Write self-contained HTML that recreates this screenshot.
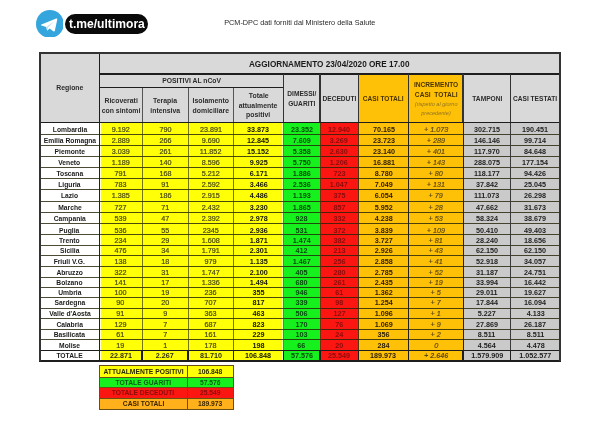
<!DOCTYPE html>
<html><head><meta charset="utf-8"><title>PCM-DPC</title>
<style>
html,body{margin:0;padding:0;background:#fff;}
body{width:600px;height:425px;overflow:hidden;position:relative;font-family:"Liberation Sans",sans-serif;}
#p{position:absolute;left:0;top:0;width:600px;height:425px;overflow:hidden;filter:blur(0.4px);}
#p div{position:absolute;}
.t{text-align:center;white-space:nowrap;}
.t span{display:inline-block;transform-origin:50% 50%;}
</style></head><body><div id="p">
<div style="left:40.00px;top:53.10px;width:520.00px;height:69.20px;background:#d9d9d9;"></div>
<div style="left:358.30px;top:74.10px;width:104.70px;height:48.20px;background:#ffc107;"></div>
<div style="left:40.00px;top:122.30px;width:59.30px;height:238.70px;background:#ffffff;"></div>
<div style="left:99.30px;top:122.30px;width:42.80px;height:238.70px;background:#ffff08;"></div>
<div style="left:142.10px;top:122.30px;width:45.90px;height:238.70px;background:#ffff08;"></div>
<div style="left:188.00px;top:122.30px;width:45.30px;height:238.70px;background:#ffff08;"></div>
<div style="left:233.30px;top:122.30px;width:50.20px;height:238.70px;background:#ffff08;"></div>
<div style="left:283.50px;top:122.30px;width:36.50px;height:238.70px;background:#16f01c;"></div>
<div style="left:320.00px;top:122.30px;width:38.30px;height:238.70px;background:#fb1612;"></div>
<div style="left:358.30px;top:122.30px;width:50.30px;height:238.70px;background:#ffc107;"></div>
<div style="left:408.60px;top:122.30px;width:54.40px;height:238.70px;background:#ffc107;"></div>
<div style="left:463.00px;top:122.30px;width:47.70px;height:238.70px;background:#cacaca;"></div>
<div style="left:510.70px;top:122.30px;width:49.30px;height:238.70px;background:#cacaca;"></div>
<div style="left:99.80px;top:122.90px;width:1.40px;height:237.50px;background:rgba(255,255,255,0.8);"></div>
<div style="left:281.90px;top:122.90px;width:1.20px;height:237.50px;background:rgba(255,255,235,0.7);"></div>
<div style="left:40.00px;top:133.88px;width:520.00px;height:0.85px;background:rgba(35,35,10,0.82);"></div>
<div style="left:40.00px;top:144.97px;width:520.00px;height:0.85px;background:rgba(35,35,10,0.82);"></div>
<div style="left:40.00px;top:155.97px;width:520.00px;height:0.85px;background:rgba(35,35,10,0.82);"></div>
<div style="left:40.00px;top:166.77px;width:520.00px;height:0.85px;background:rgba(35,35,10,0.82);"></div>
<div style="left:40.00px;top:177.77px;width:520.00px;height:0.85px;background:rgba(35,35,10,0.82);"></div>
<div style="left:40.00px;top:188.88px;width:520.00px;height:0.85px;background:rgba(35,35,10,0.82);"></div>
<div style="left:40.00px;top:201.38px;width:520.00px;height:0.85px;background:rgba(35,35,10,0.82);"></div>
<div style="left:40.00px;top:212.47px;width:520.00px;height:0.85px;background:rgba(35,35,10,0.82);"></div>
<div style="left:40.00px;top:223.17px;width:520.00px;height:0.85px;background:rgba(35,35,10,0.82);"></div>
<div style="left:40.00px;top:234.07px;width:520.00px;height:0.85px;background:rgba(35,35,10,0.82);"></div>
<div style="left:40.00px;top:244.88px;width:520.00px;height:0.85px;background:rgba(35,35,10,0.82);"></div>
<div style="left:40.00px;top:255.38px;width:520.00px;height:0.85px;background:rgba(35,35,10,0.82);"></div>
<div style="left:40.00px;top:265.97px;width:520.00px;height:0.85px;background:rgba(35,35,10,0.82);"></div>
<div style="left:40.00px;top:276.57px;width:520.00px;height:0.85px;background:rgba(35,35,10,0.82);"></div>
<div style="left:40.00px;top:287.07px;width:520.00px;height:0.85px;background:rgba(35,35,10,0.82);"></div>
<div style="left:40.00px;top:297.18px;width:520.00px;height:0.85px;background:rgba(35,35,10,0.82);"></div>
<div style="left:40.00px;top:307.88px;width:520.00px;height:0.85px;background:rgba(35,35,10,0.82);"></div>
<div style="left:40.00px;top:318.47px;width:520.00px;height:0.85px;background:rgba(35,35,10,0.82);"></div>
<div style="left:40.00px;top:329.07px;width:520.00px;height:0.85px;background:rgba(35,35,10,0.82);"></div>
<div style="left:40.00px;top:339.47px;width:520.00px;height:0.85px;background:rgba(35,35,10,0.82);"></div>
<div style="left:141.67px;top:122.30px;width:0.85px;height:228.30px;background:rgba(60,60,20,0.7);"></div>
<div style="left:187.57px;top:122.30px;width:0.85px;height:228.30px;background:rgba(60,60,20,0.7);"></div>
<div style="left:232.88px;top:122.30px;width:0.85px;height:228.30px;background:rgba(60,60,20,0.7);"></div>
<div style="left:283.07px;top:122.30px;width:0.85px;height:228.30px;background:rgba(60,60,20,0.7);"></div>
<div style="left:319.57px;top:122.30px;width:0.85px;height:228.30px;background:rgba(60,60,20,0.7);"></div>
<div style="left:98.80px;top:122.30px;width:1.00px;height:228.30px;background:#222;"></div>
<div style="left:408.10px;top:122.30px;width:1.00px;height:228.30px;background:#222;"></div>
<div style="left:462.50px;top:122.30px;width:1.00px;height:228.30px;background:#222;"></div>
<div style="left:510.25px;top:122.30px;width:0.90px;height:228.30px;background:#3a3a3a;"></div>
<div style="left:357.85px;top:122.30px;width:0.90px;height:228.30px;background:rgba(50,30,10,0.85);"></div>
<div style="left:99.30px;top:73.45px;width:460.70px;height:1.30px;background:#1e1e1e;"></div>
<div style="left:99.30px;top:87.00px;width:184.20px;height:1.20px;background:#1e1e1e;"></div>
<div style="left:40.00px;top:121.65px;width:520.00px;height:1.30px;background:#1e1e1e;"></div>
<div style="left:98.60px;top:53.10px;width:1.40px;height:69.20px;background:#1e1e1e;"></div>
<div style="left:282.95px;top:74.10px;width:1.10px;height:48.20px;background:#333;"></div>
<div style="left:319.45px;top:74.10px;width:1.10px;height:48.20px;background:#333;"></div>
<div style="left:357.75px;top:74.10px;width:1.10px;height:48.20px;background:#333;"></div>
<div style="left:408.05px;top:74.10px;width:1.10px;height:48.20px;background:#333;"></div>
<div style="left:462.45px;top:74.10px;width:1.10px;height:48.20px;background:#333;"></div>
<div style="left:510.15px;top:74.10px;width:1.10px;height:48.20px;background:#333;"></div>
<div style="left:141.70px;top:87.60px;width:0.80px;height:34.70px;background:#555;"></div>
<div style="left:187.60px;top:87.60px;width:0.80px;height:34.70px;background:#555;"></div>
<div style="left:232.90px;top:87.60px;width:0.80px;height:34.70px;background:#555;"></div>
<div style="left:40.00px;top:349.98px;width:520.00px;height:1.25px;background:#1e1e1e;"></div>
<div style="left:98.67px;top:350.60px;width:1.25px;height:10.40px;background:#1e1e1e;"></div>
<div style="left:141.47px;top:350.60px;width:1.25px;height:10.40px;background:#1e1e1e;"></div>
<div style="left:187.38px;top:350.60px;width:1.25px;height:10.40px;background:#1e1e1e;"></div>
<div style="left:232.68px;top:350.60px;width:1.25px;height:10.40px;background:#1e1e1e;"></div>
<div style="left:282.88px;top:350.60px;width:1.25px;height:10.40px;background:#1e1e1e;"></div>
<div style="left:319.38px;top:350.60px;width:1.25px;height:10.40px;background:#1e1e1e;"></div>
<div style="left:357.68px;top:350.60px;width:1.25px;height:10.40px;background:#1e1e1e;"></div>
<div style="left:407.98px;top:350.60px;width:1.25px;height:10.40px;background:#1e1e1e;"></div>
<div style="left:462.38px;top:350.60px;width:1.25px;height:10.40px;background:#1e1e1e;"></div>
<div style="left:510.07px;top:350.60px;width:1.25px;height:10.40px;background:#1e1e1e;"></div>
<div style="left:39.40px;top:52.45px;width:521.20px;height:1.30px;background:#333;"></div>
<div style="left:39.40px;top:360.30px;width:521.20px;height:1.40px;background:#1e1e1e;"></div>
<div style="left:39.48px;top:53.10px;width:1.25px;height:307.90px;background:#333;"></div>
<div style="left:559.38px;top:53.10px;width:1.25px;height:307.90px;background:#333;"></div>
<div class="t" style="left:40.00px;width:59.30px;top:78.00px;height:20px;line-height:20px;font-size:7.5px;color:#2b2b2b;font-weight:700;"><span style="transform:scaleX(0.92)">Regione</span></div>
<div class="t" style="left:99.30px;width:460.70px;top:54.00px;height:20px;line-height:20px;font-size:8.6px;color:#1a1a1a;font-weight:700;"><span style="transform:scaleX(0.953)">AGGIORNAMENTO 23/04/2020 ORE 17.00</span></div>
<div class="t" style="left:99.30px;width:184.20px;top:71.30px;height:20px;line-height:20px;font-size:7.3px;color:#2b2b2b;font-weight:700;"><span style="transform:scaleX(0.93)">POSITIVI AL nCoV</span></div>
<div class="t" style="left:99.30px;width:42.80px;top:90.90px;height:20px;line-height:20px;font-size:7.5px;color:#2b2b2b;font-weight:700;"><span style="transform:scaleX(0.92)">Ricoverati</span></div>
<div class="t" style="left:99.30px;width:42.80px;top:101.10px;height:20px;line-height:20px;font-size:7.5px;color:#2b2b2b;font-weight:700;"><span style="transform:scaleX(0.92)">con sintomi</span></div>
<div class="t" style="left:142.10px;width:45.90px;top:90.90px;height:20px;line-height:20px;font-size:7.5px;color:#2b2b2b;font-weight:700;"><span style="transform:scaleX(0.92)">Terapia</span></div>
<div class="t" style="left:142.10px;width:45.90px;top:101.10px;height:20px;line-height:20px;font-size:7.5px;color:#2b2b2b;font-weight:700;"><span style="transform:scaleX(0.92)">intensiva</span></div>
<div class="t" style="left:188.00px;width:45.30px;top:90.90px;height:20px;line-height:20px;font-size:7.5px;color:#2b2b2b;font-weight:700;"><span style="transform:scaleX(0.92)">Isolamento</span></div>
<div class="t" style="left:188.00px;width:45.30px;top:101.10px;height:20px;line-height:20px;font-size:7.5px;color:#2b2b2b;font-weight:700;"><span style="transform:scaleX(0.92)">domiciliare</span></div>
<div class="t" style="left:233.30px;width:50.20px;top:85.80px;height:20px;line-height:20px;font-size:7.5px;color:#2b2b2b;font-weight:700;"><span style="transform:scaleX(0.92)">Totale</span></div>
<div class="t" style="left:233.30px;width:50.20px;top:95.50px;height:20px;line-height:20px;font-size:7.5px;color:#2b2b2b;font-weight:700;"><span style="transform:scaleX(0.92)">attualmente</span></div>
<div class="t" style="left:233.30px;width:50.20px;top:105.30px;height:20px;line-height:20px;font-size:7.5px;color:#2b2b2b;font-weight:700;"><span style="transform:scaleX(0.92)">positivi</span></div>
<div class="t" style="left:283.50px;width:36.50px;top:83.90px;height:20px;line-height:20px;font-size:7.2px;color:#2b2b2b;font-weight:700;"><span style="transform:scaleX(0.92)">DIMESSI/</span></div>
<div class="t" style="left:283.50px;width:36.50px;top:94.10px;height:20px;line-height:20px;font-size:7.2px;color:#2b2b2b;font-weight:700;"><span style="transform:scaleX(0.92)">GUARITI</span></div>
<div class="t" style="left:320.00px;width:38.30px;top:88.60px;height:20px;line-height:20px;font-size:7.2px;color:#2b2b2b;font-weight:700;"><span style="transform:scaleX(0.92)">DECEDUTI</span></div>
<div class="t" style="left:358.30px;width:50.30px;top:88.60px;height:20px;line-height:20px;font-size:7.2px;color:#4a3500;font-weight:700;"><span style="transform:scaleX(0.92)">CASI TOTALI</span></div>
<div class="t" style="left:408.60px;width:54.40px;top:74.50px;height:20px;line-height:20px;font-size:7.2px;color:#4a3500;font-weight:700;"><span style="transform:scaleX(0.92)">INCREMENTO</span></div>
<div class="t" style="left:408.60px;width:54.40px;top:84.50px;height:20px;line-height:20px;font-size:7.2px;color:#4a3500;font-weight:700;"><span style="transform:scaleX(0.92)">CASI&nbsp; TOTALI</span></div>
<div class="t" style="left:408.60px;width:54.40px;top:94.00px;height:20px;line-height:20px;font-size:6.0px;color:#8f7320;font-weight:400;font-style:italic;"><span style="transform:scaleX(0.92)">(rispetto al giorno</span></div>
<div class="t" style="left:408.60px;width:54.40px;top:102.50px;height:20px;line-height:20px;font-size:6.0px;color:#8f7320;font-weight:400;font-style:italic;"><span style="transform:scaleX(0.92)">precedente)</span></div>
<div class="t" style="left:463.00px;width:47.70px;top:88.60px;height:20px;line-height:20px;font-size:7.2px;color:#2b2b2b;font-weight:700;"><span style="transform:scaleX(0.92)">TAMPONI</span></div>
<div class="t" style="left:510.70px;width:49.30px;top:88.60px;height:20px;line-height:20px;font-size:7.2px;color:#2b2b2b;font-weight:700;"><span style="transform:scaleX(0.92)">CASI TESTATI</span></div>
<div class="t" style="left:40.00px;width:59.30px;top:119.85px;height:20px;line-height:20px;font-size:7.45px;color:#1a1a1a;font-weight:700;"><span style="transform:scaleX(0.905)">Lombardia</span></div>
<div class="t" style="left:99.30px;width:42.80px;top:119.85px;height:20px;line-height:20px;font-size:7.8px;color:#4a4a12;font-weight:401;-webkit-text-stroke:0.22px #4a4a12;"><span style="transform:scaleX(0.925)">9.192</span></div>
<div class="t" style="left:142.10px;width:45.90px;top:119.85px;height:20px;line-height:20px;font-size:7.8px;color:#4a4a12;font-weight:401;-webkit-text-stroke:0.22px #4a4a12;"><span style="transform:scaleX(0.925)">790</span></div>
<div class="t" style="left:188.00px;width:45.30px;top:119.85px;height:20px;line-height:20px;font-size:7.8px;color:#4a4a12;font-weight:401;-webkit-text-stroke:0.22px #4a4a12;"><span style="transform:scaleX(0.925)">23.891</span></div>
<div class="t" style="left:233.30px;width:50.20px;top:119.85px;height:20px;line-height:20px;font-size:7.8px;color:#141400;font-weight:700;"><span style="transform:scaleX(0.925)">33.873</span></div>
<div class="t" style="left:283.50px;width:36.50px;top:119.85px;height:20px;line-height:20px;font-size:7.8px;color:#074a0e;font-weight:700;"><span style="transform:scaleX(0.925)">23.352</span></div>
<div class="t" style="left:320.00px;width:38.30px;top:119.85px;height:20px;line-height:20px;font-size:7.8px;color:#8c0c0c;font-weight:700;"><span style="transform:scaleX(0.925)">12.940</span></div>
<div class="t" style="left:358.30px;width:50.30px;top:119.85px;height:20px;line-height:20px;font-size:7.8px;color:#2a1c00;font-weight:700;"><span style="transform:scaleX(0.925)">70.165</span></div>
<div class="t" style="left:408.60px;width:54.40px;top:119.85px;height:20px;line-height:20px;font-size:7.8px;color:#5e4a14;font-weight:402;font-style:italic;-webkit-text-stroke:0.2px #5e4a14;"><span style="transform:scaleX(0.925)">+ 1.073</span></div>
<div class="t" style="left:463.00px;width:47.70px;top:119.85px;height:20px;line-height:20px;font-size:7.8px;color:#222;font-weight:700;"><span style="transform:scaleX(0.925)">302.715</span></div>
<div class="t" style="left:510.70px;width:49.30px;top:119.85px;height:20px;line-height:20px;font-size:7.8px;color:#222;font-weight:700;"><span style="transform:scaleX(0.925)">190.451</span></div>
<div class="t" style="left:40.00px;width:59.30px;top:131.35px;height:20px;line-height:20px;font-size:7.45px;color:#1a1a1a;font-weight:700;"><span style="transform:scaleX(0.905)">Emilia Romagna</span></div>
<div class="t" style="left:99.30px;width:42.80px;top:131.35px;height:20px;line-height:20px;font-size:7.8px;color:#4a4a12;font-weight:401;-webkit-text-stroke:0.22px #4a4a12;"><span style="transform:scaleX(0.925)">2.889</span></div>
<div class="t" style="left:142.10px;width:45.90px;top:131.35px;height:20px;line-height:20px;font-size:7.8px;color:#4a4a12;font-weight:401;-webkit-text-stroke:0.22px #4a4a12;"><span style="transform:scaleX(0.925)">266</span></div>
<div class="t" style="left:188.00px;width:45.30px;top:131.35px;height:20px;line-height:20px;font-size:7.8px;color:#4a4a12;font-weight:401;-webkit-text-stroke:0.22px #4a4a12;"><span style="transform:scaleX(0.925)">9.690</span></div>
<div class="t" style="left:233.30px;width:50.20px;top:131.35px;height:20px;line-height:20px;font-size:7.8px;color:#141400;font-weight:700;"><span style="transform:scaleX(0.925)">12.845</span></div>
<div class="t" style="left:283.50px;width:36.50px;top:131.35px;height:20px;line-height:20px;font-size:7.8px;color:#074a0e;font-weight:700;"><span style="transform:scaleX(0.925)">7.609</span></div>
<div class="t" style="left:320.00px;width:38.30px;top:131.35px;height:20px;line-height:20px;font-size:7.8px;color:#8c0c0c;font-weight:700;"><span style="transform:scaleX(0.925)">3.269</span></div>
<div class="t" style="left:358.30px;width:50.30px;top:131.35px;height:20px;line-height:20px;font-size:7.8px;color:#2a1c00;font-weight:700;"><span style="transform:scaleX(0.925)">23.723</span></div>
<div class="t" style="left:408.60px;width:54.40px;top:131.35px;height:20px;line-height:20px;font-size:7.8px;color:#5e4a14;font-weight:402;font-style:italic;-webkit-text-stroke:0.2px #5e4a14;"><span style="transform:scaleX(0.925)">+ 289</span></div>
<div class="t" style="left:463.00px;width:47.70px;top:131.35px;height:20px;line-height:20px;font-size:7.8px;color:#222;font-weight:700;"><span style="transform:scaleX(0.925)">146.146</span></div>
<div class="t" style="left:510.70px;width:49.30px;top:131.35px;height:20px;line-height:20px;font-size:7.8px;color:#222;font-weight:700;"><span style="transform:scaleX(0.925)">99.714</span></div>
<div class="t" style="left:40.00px;width:59.30px;top:142.40px;height:20px;line-height:20px;font-size:7.45px;color:#1a1a1a;font-weight:700;"><span style="transform:scaleX(0.905)">Piemonte</span></div>
<div class="t" style="left:99.30px;width:42.80px;top:142.40px;height:20px;line-height:20px;font-size:7.8px;color:#4a4a12;font-weight:401;-webkit-text-stroke:0.22px #4a4a12;"><span style="transform:scaleX(0.925)">3.039</span></div>
<div class="t" style="left:142.10px;width:45.90px;top:142.40px;height:20px;line-height:20px;font-size:7.8px;color:#4a4a12;font-weight:401;-webkit-text-stroke:0.22px #4a4a12;"><span style="transform:scaleX(0.925)">261</span></div>
<div class="t" style="left:188.00px;width:45.30px;top:142.40px;height:20px;line-height:20px;font-size:7.8px;color:#4a4a12;font-weight:401;-webkit-text-stroke:0.22px #4a4a12;"><span style="transform:scaleX(0.925)">11.852</span></div>
<div class="t" style="left:233.30px;width:50.20px;top:142.40px;height:20px;line-height:20px;font-size:7.8px;color:#141400;font-weight:700;"><span style="transform:scaleX(0.925)">15.152</span></div>
<div class="t" style="left:283.50px;width:36.50px;top:142.40px;height:20px;line-height:20px;font-size:7.8px;color:#074a0e;font-weight:700;"><span style="transform:scaleX(0.925)">5.358</span></div>
<div class="t" style="left:320.00px;width:38.30px;top:142.40px;height:20px;line-height:20px;font-size:7.8px;color:#8c0c0c;font-weight:700;"><span style="transform:scaleX(0.925)">2.630</span></div>
<div class="t" style="left:358.30px;width:50.30px;top:142.40px;height:20px;line-height:20px;font-size:7.8px;color:#2a1c00;font-weight:700;"><span style="transform:scaleX(0.925)">23.140</span></div>
<div class="t" style="left:408.60px;width:54.40px;top:142.40px;height:20px;line-height:20px;font-size:7.8px;color:#5e4a14;font-weight:402;font-style:italic;-webkit-text-stroke:0.2px #5e4a14;"><span style="transform:scaleX(0.925)">+ 401</span></div>
<div class="t" style="left:463.00px;width:47.70px;top:142.40px;height:20px;line-height:20px;font-size:7.8px;color:#222;font-weight:700;"><span style="transform:scaleX(0.925)">117.970</span></div>
<div class="t" style="left:510.70px;width:49.30px;top:142.40px;height:20px;line-height:20px;font-size:7.8px;color:#222;font-weight:700;"><span style="transform:scaleX(0.925)">84.648</span></div>
<div class="t" style="left:40.00px;width:59.30px;top:153.10px;height:20px;line-height:20px;font-size:7.45px;color:#1a1a1a;font-weight:700;"><span style="transform:scaleX(0.905)">Veneto</span></div>
<div class="t" style="left:99.30px;width:42.80px;top:153.10px;height:20px;line-height:20px;font-size:7.8px;color:#4a4a12;font-weight:401;-webkit-text-stroke:0.22px #4a4a12;"><span style="transform:scaleX(0.925)">1.189</span></div>
<div class="t" style="left:142.10px;width:45.90px;top:153.10px;height:20px;line-height:20px;font-size:7.8px;color:#4a4a12;font-weight:401;-webkit-text-stroke:0.22px #4a4a12;"><span style="transform:scaleX(0.925)">140</span></div>
<div class="t" style="left:188.00px;width:45.30px;top:153.10px;height:20px;line-height:20px;font-size:7.8px;color:#4a4a12;font-weight:401;-webkit-text-stroke:0.22px #4a4a12;"><span style="transform:scaleX(0.925)">8.596</span></div>
<div class="t" style="left:233.30px;width:50.20px;top:153.10px;height:20px;line-height:20px;font-size:7.8px;color:#141400;font-weight:700;"><span style="transform:scaleX(0.925)">9.925</span></div>
<div class="t" style="left:283.50px;width:36.50px;top:153.10px;height:20px;line-height:20px;font-size:7.8px;color:#074a0e;font-weight:700;"><span style="transform:scaleX(0.925)">5.750</span></div>
<div class="t" style="left:320.00px;width:38.30px;top:153.10px;height:20px;line-height:20px;font-size:7.8px;color:#8c0c0c;font-weight:700;"><span style="transform:scaleX(0.925)">1.206</span></div>
<div class="t" style="left:358.30px;width:50.30px;top:153.10px;height:20px;line-height:20px;font-size:7.8px;color:#2a1c00;font-weight:700;"><span style="transform:scaleX(0.925)">16.881</span></div>
<div class="t" style="left:408.60px;width:54.40px;top:153.10px;height:20px;line-height:20px;font-size:7.8px;color:#5e4a14;font-weight:402;font-style:italic;-webkit-text-stroke:0.2px #5e4a14;"><span style="transform:scaleX(0.925)">+ 143</span></div>
<div class="t" style="left:463.00px;width:47.70px;top:153.10px;height:20px;line-height:20px;font-size:7.8px;color:#222;font-weight:700;"><span style="transform:scaleX(0.925)">288.075</span></div>
<div class="t" style="left:510.70px;width:49.30px;top:153.10px;height:20px;line-height:20px;font-size:7.8px;color:#222;font-weight:700;"><span style="transform:scaleX(0.925)">177.154</span></div>
<div class="t" style="left:40.00px;width:59.30px;top:164.00px;height:20px;line-height:20px;font-size:7.45px;color:#1a1a1a;font-weight:700;"><span style="transform:scaleX(0.905)">Toscana</span></div>
<div class="t" style="left:99.30px;width:42.80px;top:164.00px;height:20px;line-height:20px;font-size:7.8px;color:#4a4a12;font-weight:401;-webkit-text-stroke:0.22px #4a4a12;"><span style="transform:scaleX(0.925)">791</span></div>
<div class="t" style="left:142.10px;width:45.90px;top:164.00px;height:20px;line-height:20px;font-size:7.8px;color:#4a4a12;font-weight:401;-webkit-text-stroke:0.22px #4a4a12;"><span style="transform:scaleX(0.925)">168</span></div>
<div class="t" style="left:188.00px;width:45.30px;top:164.00px;height:20px;line-height:20px;font-size:7.8px;color:#4a4a12;font-weight:401;-webkit-text-stroke:0.22px #4a4a12;"><span style="transform:scaleX(0.925)">5.212</span></div>
<div class="t" style="left:233.30px;width:50.20px;top:164.00px;height:20px;line-height:20px;font-size:7.8px;color:#141400;font-weight:700;"><span style="transform:scaleX(0.925)">6.171</span></div>
<div class="t" style="left:283.50px;width:36.50px;top:164.00px;height:20px;line-height:20px;font-size:7.8px;color:#074a0e;font-weight:700;"><span style="transform:scaleX(0.925)">1.886</span></div>
<div class="t" style="left:320.00px;width:38.30px;top:164.00px;height:20px;line-height:20px;font-size:7.8px;color:#8c0c0c;font-weight:700;"><span style="transform:scaleX(0.925)">723</span></div>
<div class="t" style="left:358.30px;width:50.30px;top:164.00px;height:20px;line-height:20px;font-size:7.8px;color:#2a1c00;font-weight:700;"><span style="transform:scaleX(0.925)">8.780</span></div>
<div class="t" style="left:408.60px;width:54.40px;top:164.00px;height:20px;line-height:20px;font-size:7.8px;color:#5e4a14;font-weight:402;font-style:italic;-webkit-text-stroke:0.2px #5e4a14;"><span style="transform:scaleX(0.925)">+ 80</span></div>
<div class="t" style="left:463.00px;width:47.70px;top:164.00px;height:20px;line-height:20px;font-size:7.8px;color:#222;font-weight:700;"><span style="transform:scaleX(0.925)">118.177</span></div>
<div class="t" style="left:510.70px;width:49.30px;top:164.00px;height:20px;line-height:20px;font-size:7.8px;color:#222;font-weight:700;"><span style="transform:scaleX(0.925)">94.426</span></div>
<div class="t" style="left:40.00px;width:59.30px;top:175.05px;height:20px;line-height:20px;font-size:7.45px;color:#1a1a1a;font-weight:700;"><span style="transform:scaleX(0.905)">Liguria</span></div>
<div class="t" style="left:99.30px;width:42.80px;top:175.05px;height:20px;line-height:20px;font-size:7.8px;color:#4a4a12;font-weight:401;-webkit-text-stroke:0.22px #4a4a12;"><span style="transform:scaleX(0.925)">783</span></div>
<div class="t" style="left:142.10px;width:45.90px;top:175.05px;height:20px;line-height:20px;font-size:7.8px;color:#4a4a12;font-weight:401;-webkit-text-stroke:0.22px #4a4a12;"><span style="transform:scaleX(0.925)">91</span></div>
<div class="t" style="left:188.00px;width:45.30px;top:175.05px;height:20px;line-height:20px;font-size:7.8px;color:#4a4a12;font-weight:401;-webkit-text-stroke:0.22px #4a4a12;"><span style="transform:scaleX(0.925)">2.592</span></div>
<div class="t" style="left:233.30px;width:50.20px;top:175.05px;height:20px;line-height:20px;font-size:7.8px;color:#141400;font-weight:700;"><span style="transform:scaleX(0.925)">3.466</span></div>
<div class="t" style="left:283.50px;width:36.50px;top:175.05px;height:20px;line-height:20px;font-size:7.8px;color:#074a0e;font-weight:700;"><span style="transform:scaleX(0.925)">2.536</span></div>
<div class="t" style="left:320.00px;width:38.30px;top:175.05px;height:20px;line-height:20px;font-size:7.8px;color:#8c0c0c;font-weight:700;"><span style="transform:scaleX(0.925)">1.047</span></div>
<div class="t" style="left:358.30px;width:50.30px;top:175.05px;height:20px;line-height:20px;font-size:7.8px;color:#2a1c00;font-weight:700;"><span style="transform:scaleX(0.925)">7.049</span></div>
<div class="t" style="left:408.60px;width:54.40px;top:175.05px;height:20px;line-height:20px;font-size:7.8px;color:#5e4a14;font-weight:402;font-style:italic;-webkit-text-stroke:0.2px #5e4a14;"><span style="transform:scaleX(0.925)">+ 131</span></div>
<div class="t" style="left:463.00px;width:47.70px;top:175.05px;height:20px;line-height:20px;font-size:7.8px;color:#222;font-weight:700;"><span style="transform:scaleX(0.925)">37.842</span></div>
<div class="t" style="left:510.70px;width:49.30px;top:175.05px;height:20px;line-height:20px;font-size:7.8px;color:#222;font-weight:700;"><span style="transform:scaleX(0.925)">25.045</span></div>
<div class="t" style="left:40.00px;width:59.30px;top:186.45px;height:20px;line-height:20px;font-size:7.45px;color:#1a1a1a;font-weight:700;"><span style="transform:scaleX(0.905)">Lazio</span></div>
<div class="t" style="left:99.30px;width:42.80px;top:186.45px;height:20px;line-height:20px;font-size:7.8px;color:#4a4a12;font-weight:401;-webkit-text-stroke:0.22px #4a4a12;"><span style="transform:scaleX(0.925)">1.385</span></div>
<div class="t" style="left:142.10px;width:45.90px;top:186.45px;height:20px;line-height:20px;font-size:7.8px;color:#4a4a12;font-weight:401;-webkit-text-stroke:0.22px #4a4a12;"><span style="transform:scaleX(0.925)">186</span></div>
<div class="t" style="left:188.00px;width:45.30px;top:186.45px;height:20px;line-height:20px;font-size:7.8px;color:#4a4a12;font-weight:401;-webkit-text-stroke:0.22px #4a4a12;"><span style="transform:scaleX(0.925)">2.915</span></div>
<div class="t" style="left:233.30px;width:50.20px;top:186.45px;height:20px;line-height:20px;font-size:7.8px;color:#141400;font-weight:700;"><span style="transform:scaleX(0.925)">4.486</span></div>
<div class="t" style="left:283.50px;width:36.50px;top:186.45px;height:20px;line-height:20px;font-size:7.8px;color:#074a0e;font-weight:700;"><span style="transform:scaleX(0.925)">1.193</span></div>
<div class="t" style="left:320.00px;width:38.30px;top:186.45px;height:20px;line-height:20px;font-size:7.8px;color:#8c0c0c;font-weight:700;"><span style="transform:scaleX(0.925)">375</span></div>
<div class="t" style="left:358.30px;width:50.30px;top:186.45px;height:20px;line-height:20px;font-size:7.8px;color:#2a1c00;font-weight:700;"><span style="transform:scaleX(0.925)">6.054</span></div>
<div class="t" style="left:408.60px;width:54.40px;top:186.45px;height:20px;line-height:20px;font-size:7.8px;color:#5e4a14;font-weight:402;font-style:italic;-webkit-text-stroke:0.2px #5e4a14;"><span style="transform:scaleX(0.925)">+ 79</span></div>
<div class="t" style="left:463.00px;width:47.70px;top:186.45px;height:20px;line-height:20px;font-size:7.8px;color:#222;font-weight:700;"><span style="transform:scaleX(0.925)">111.073</span></div>
<div class="t" style="left:510.70px;width:49.30px;top:186.45px;height:20px;line-height:20px;font-size:7.8px;color:#222;font-weight:700;"><span style="transform:scaleX(0.925)">26.298</span></div>
<div class="t" style="left:40.00px;width:59.30px;top:198.25px;height:20px;line-height:20px;font-size:7.45px;color:#1a1a1a;font-weight:700;"><span style="transform:scaleX(0.905)">Marche</span></div>
<div class="t" style="left:99.30px;width:42.80px;top:198.25px;height:20px;line-height:20px;font-size:7.8px;color:#4a4a12;font-weight:401;-webkit-text-stroke:0.22px #4a4a12;"><span style="transform:scaleX(0.925)">727</span></div>
<div class="t" style="left:142.10px;width:45.90px;top:198.25px;height:20px;line-height:20px;font-size:7.8px;color:#4a4a12;font-weight:401;-webkit-text-stroke:0.22px #4a4a12;"><span style="transform:scaleX(0.925)">71</span></div>
<div class="t" style="left:188.00px;width:45.30px;top:198.25px;height:20px;line-height:20px;font-size:7.8px;color:#4a4a12;font-weight:401;-webkit-text-stroke:0.22px #4a4a12;"><span style="transform:scaleX(0.925)">2.432</span></div>
<div class="t" style="left:233.30px;width:50.20px;top:198.25px;height:20px;line-height:20px;font-size:7.8px;color:#141400;font-weight:700;"><span style="transform:scaleX(0.925)">3.230</span></div>
<div class="t" style="left:283.50px;width:36.50px;top:198.25px;height:20px;line-height:20px;font-size:7.8px;color:#074a0e;font-weight:700;"><span style="transform:scaleX(0.925)">1.865</span></div>
<div class="t" style="left:320.00px;width:38.30px;top:198.25px;height:20px;line-height:20px;font-size:7.8px;color:#8c0c0c;font-weight:700;"><span style="transform:scaleX(0.925)">857</span></div>
<div class="t" style="left:358.30px;width:50.30px;top:198.25px;height:20px;line-height:20px;font-size:7.8px;color:#2a1c00;font-weight:700;"><span style="transform:scaleX(0.925)">5.952</span></div>
<div class="t" style="left:408.60px;width:54.40px;top:198.25px;height:20px;line-height:20px;font-size:7.8px;color:#5e4a14;font-weight:402;font-style:italic;-webkit-text-stroke:0.2px #5e4a14;"><span style="transform:scaleX(0.925)">+ 28</span></div>
<div class="t" style="left:463.00px;width:47.70px;top:198.25px;height:20px;line-height:20px;font-size:7.8px;color:#222;font-weight:700;"><span style="transform:scaleX(0.925)">47.662</span></div>
<div class="t" style="left:510.70px;width:49.30px;top:198.25px;height:20px;line-height:20px;font-size:7.8px;color:#222;font-weight:700;"><span style="transform:scaleX(0.925)">31.673</span></div>
<div class="t" style="left:40.00px;width:59.30px;top:209.15px;height:20px;line-height:20px;font-size:7.45px;color:#1a1a1a;font-weight:700;"><span style="transform:scaleX(0.905)">Campania</span></div>
<div class="t" style="left:99.30px;width:42.80px;top:209.15px;height:20px;line-height:20px;font-size:7.8px;color:#4a4a12;font-weight:401;-webkit-text-stroke:0.22px #4a4a12;"><span style="transform:scaleX(0.925)">539</span></div>
<div class="t" style="left:142.10px;width:45.90px;top:209.15px;height:20px;line-height:20px;font-size:7.8px;color:#4a4a12;font-weight:401;-webkit-text-stroke:0.22px #4a4a12;"><span style="transform:scaleX(0.925)">47</span></div>
<div class="t" style="left:188.00px;width:45.30px;top:209.15px;height:20px;line-height:20px;font-size:7.8px;color:#4a4a12;font-weight:401;-webkit-text-stroke:0.22px #4a4a12;"><span style="transform:scaleX(0.925)">2.392</span></div>
<div class="t" style="left:233.30px;width:50.20px;top:209.15px;height:20px;line-height:20px;font-size:7.8px;color:#141400;font-weight:700;"><span style="transform:scaleX(0.925)">2.978</span></div>
<div class="t" style="left:283.50px;width:36.50px;top:209.15px;height:20px;line-height:20px;font-size:7.8px;color:#074a0e;font-weight:700;"><span style="transform:scaleX(0.925)">928</span></div>
<div class="t" style="left:320.00px;width:38.30px;top:209.15px;height:20px;line-height:20px;font-size:7.8px;color:#8c0c0c;font-weight:700;"><span style="transform:scaleX(0.925)">332</span></div>
<div class="t" style="left:358.30px;width:50.30px;top:209.15px;height:20px;line-height:20px;font-size:7.8px;color:#2a1c00;font-weight:700;"><span style="transform:scaleX(0.925)">4.238</span></div>
<div class="t" style="left:408.60px;width:54.40px;top:209.15px;height:20px;line-height:20px;font-size:7.8px;color:#5e4a14;font-weight:402;font-style:italic;-webkit-text-stroke:0.2px #5e4a14;"><span style="transform:scaleX(0.925)">+ 53</span></div>
<div class="t" style="left:463.00px;width:47.70px;top:209.15px;height:20px;line-height:20px;font-size:7.8px;color:#222;font-weight:700;"><span style="transform:scaleX(0.925)">58.324</span></div>
<div class="t" style="left:510.70px;width:49.30px;top:209.15px;height:20px;line-height:20px;font-size:7.8px;color:#222;font-weight:700;"><span style="transform:scaleX(0.925)">38.679</span></div>
<div class="t" style="left:40.00px;width:59.30px;top:220.55px;height:20px;line-height:20px;font-size:7.45px;color:#1a1a1a;font-weight:700;"><span style="transform:scaleX(0.905)">Puglia</span></div>
<div class="t" style="left:99.30px;width:42.80px;top:220.55px;height:20px;line-height:20px;font-size:7.8px;color:#4a4a12;font-weight:401;-webkit-text-stroke:0.22px #4a4a12;"><span style="transform:scaleX(0.925)">536</span></div>
<div class="t" style="left:142.10px;width:45.90px;top:220.55px;height:20px;line-height:20px;font-size:7.8px;color:#4a4a12;font-weight:401;-webkit-text-stroke:0.22px #4a4a12;"><span style="transform:scaleX(0.925)">55</span></div>
<div class="t" style="left:188.00px;width:45.30px;top:220.55px;height:20px;line-height:20px;font-size:7.8px;color:#4a4a12;font-weight:401;-webkit-text-stroke:0.22px #4a4a12;"><span style="transform:scaleX(0.925)">2345</span></div>
<div class="t" style="left:233.30px;width:50.20px;top:220.55px;height:20px;line-height:20px;font-size:7.8px;color:#141400;font-weight:700;"><span style="transform:scaleX(0.925)">2.936</span></div>
<div class="t" style="left:283.50px;width:36.50px;top:220.55px;height:20px;line-height:20px;font-size:7.8px;color:#074a0e;font-weight:700;"><span style="transform:scaleX(0.925)">531</span></div>
<div class="t" style="left:320.00px;width:38.30px;top:220.55px;height:20px;line-height:20px;font-size:7.8px;color:#8c0c0c;font-weight:700;"><span style="transform:scaleX(0.925)">372</span></div>
<div class="t" style="left:358.30px;width:50.30px;top:220.55px;height:20px;line-height:20px;font-size:7.8px;color:#2a1c00;font-weight:700;"><span style="transform:scaleX(0.925)">3.839</span></div>
<div class="t" style="left:408.60px;width:54.40px;top:220.55px;height:20px;line-height:20px;font-size:7.8px;color:#5e4a14;font-weight:402;font-style:italic;-webkit-text-stroke:0.2px #5e4a14;"><span style="transform:scaleX(0.925)">+ 109</span></div>
<div class="t" style="left:463.00px;width:47.70px;top:220.55px;height:20px;line-height:20px;font-size:7.8px;color:#222;font-weight:700;"><span style="transform:scaleX(0.925)">50.410</span></div>
<div class="t" style="left:510.70px;width:49.30px;top:220.55px;height:20px;line-height:20px;font-size:7.8px;color:#222;font-weight:700;"><span style="transform:scaleX(0.925)">49.403</span></div>
<div class="t" style="left:40.00px;width:59.30px;top:231.10px;height:20px;line-height:20px;font-size:7.45px;color:#1a1a1a;font-weight:700;"><span style="transform:scaleX(0.905)">Trento</span></div>
<div class="t" style="left:99.30px;width:42.80px;top:231.10px;height:20px;line-height:20px;font-size:7.8px;color:#4a4a12;font-weight:401;-webkit-text-stroke:0.22px #4a4a12;"><span style="transform:scaleX(0.925)">234</span></div>
<div class="t" style="left:142.10px;width:45.90px;top:231.10px;height:20px;line-height:20px;font-size:7.8px;color:#4a4a12;font-weight:401;-webkit-text-stroke:0.22px #4a4a12;"><span style="transform:scaleX(0.925)">29</span></div>
<div class="t" style="left:188.00px;width:45.30px;top:231.10px;height:20px;line-height:20px;font-size:7.8px;color:#4a4a12;font-weight:401;-webkit-text-stroke:0.22px #4a4a12;"><span style="transform:scaleX(0.925)">1.608</span></div>
<div class="t" style="left:233.30px;width:50.20px;top:231.10px;height:20px;line-height:20px;font-size:7.8px;color:#141400;font-weight:700;"><span style="transform:scaleX(0.925)">1.871</span></div>
<div class="t" style="left:283.50px;width:36.50px;top:231.10px;height:20px;line-height:20px;font-size:7.8px;color:#074a0e;font-weight:700;"><span style="transform:scaleX(0.925)">1.474</span></div>
<div class="t" style="left:320.00px;width:38.30px;top:231.10px;height:20px;line-height:20px;font-size:7.8px;color:#8c0c0c;font-weight:700;"><span style="transform:scaleX(0.925)">382</span></div>
<div class="t" style="left:358.30px;width:50.30px;top:231.10px;height:20px;line-height:20px;font-size:7.8px;color:#2a1c00;font-weight:700;"><span style="transform:scaleX(0.925)">3.727</span></div>
<div class="t" style="left:408.60px;width:54.40px;top:231.10px;height:20px;line-height:20px;font-size:7.8px;color:#5e4a14;font-weight:402;font-style:italic;-webkit-text-stroke:0.2px #5e4a14;"><span style="transform:scaleX(0.925)">+ 81</span></div>
<div class="t" style="left:463.00px;width:47.70px;top:231.10px;height:20px;line-height:20px;font-size:7.8px;color:#222;font-weight:700;"><span style="transform:scaleX(0.925)">28.240</span></div>
<div class="t" style="left:510.70px;width:49.30px;top:231.10px;height:20px;line-height:20px;font-size:7.8px;color:#222;font-weight:700;"><span style="transform:scaleX(0.925)">18.656</span></div>
<div class="t" style="left:40.00px;width:59.30px;top:241.25px;height:20px;line-height:20px;font-size:7.45px;color:#1a1a1a;font-weight:700;"><span style="transform:scaleX(0.905)">Sicilia</span></div>
<div class="t" style="left:99.30px;width:42.80px;top:241.25px;height:20px;line-height:20px;font-size:7.8px;color:#4a4a12;font-weight:401;-webkit-text-stroke:0.22px #4a4a12;"><span style="transform:scaleX(0.925)">476</span></div>
<div class="t" style="left:142.10px;width:45.90px;top:241.25px;height:20px;line-height:20px;font-size:7.8px;color:#4a4a12;font-weight:401;-webkit-text-stroke:0.22px #4a4a12;"><span style="transform:scaleX(0.925)">34</span></div>
<div class="t" style="left:188.00px;width:45.30px;top:241.25px;height:20px;line-height:20px;font-size:7.8px;color:#4a4a12;font-weight:401;-webkit-text-stroke:0.22px #4a4a12;"><span style="transform:scaleX(0.925)">1.791</span></div>
<div class="t" style="left:233.30px;width:50.20px;top:241.25px;height:20px;line-height:20px;font-size:7.8px;color:#141400;font-weight:700;"><span style="transform:scaleX(0.925)">2.301</span></div>
<div class="t" style="left:283.50px;width:36.50px;top:241.25px;height:20px;line-height:20px;font-size:7.8px;color:#074a0e;font-weight:700;"><span style="transform:scaleX(0.925)">412</span></div>
<div class="t" style="left:320.00px;width:38.30px;top:241.25px;height:20px;line-height:20px;font-size:7.8px;color:#8c0c0c;font-weight:700;"><span style="transform:scaleX(0.925)">213</span></div>
<div class="t" style="left:358.30px;width:50.30px;top:241.25px;height:20px;line-height:20px;font-size:7.8px;color:#2a1c00;font-weight:700;"><span style="transform:scaleX(0.925)">2.926</span></div>
<div class="t" style="left:408.60px;width:54.40px;top:241.25px;height:20px;line-height:20px;font-size:7.8px;color:#5e4a14;font-weight:402;font-style:italic;-webkit-text-stroke:0.2px #5e4a14;"><span style="transform:scaleX(0.925)">+ 43</span></div>
<div class="t" style="left:463.00px;width:47.70px;top:241.25px;height:20px;line-height:20px;font-size:7.8px;color:#222;font-weight:700;"><span style="transform:scaleX(0.925)">62.150</span></div>
<div class="t" style="left:510.70px;width:49.30px;top:241.25px;height:20px;line-height:20px;font-size:7.8px;color:#222;font-weight:700;"><span style="transform:scaleX(0.925)">62.150</span></div>
<div class="t" style="left:40.00px;width:59.30px;top:251.80px;height:20px;line-height:20px;font-size:7.45px;color:#1a1a1a;font-weight:700;"><span style="transform:scaleX(0.905)">Friuli V.G.</span></div>
<div class="t" style="left:99.30px;width:42.80px;top:251.80px;height:20px;line-height:20px;font-size:7.8px;color:#4a4a12;font-weight:401;-webkit-text-stroke:0.22px #4a4a12;"><span style="transform:scaleX(0.925)">138</span></div>
<div class="t" style="left:142.10px;width:45.90px;top:251.80px;height:20px;line-height:20px;font-size:7.8px;color:#4a4a12;font-weight:401;-webkit-text-stroke:0.22px #4a4a12;"><span style="transform:scaleX(0.925)">18</span></div>
<div class="t" style="left:188.00px;width:45.30px;top:251.80px;height:20px;line-height:20px;font-size:7.8px;color:#4a4a12;font-weight:401;-webkit-text-stroke:0.22px #4a4a12;"><span style="transform:scaleX(0.925)">979</span></div>
<div class="t" style="left:233.30px;width:50.20px;top:251.80px;height:20px;line-height:20px;font-size:7.8px;color:#141400;font-weight:700;"><span style="transform:scaleX(0.925)">1.135</span></div>
<div class="t" style="left:283.50px;width:36.50px;top:251.80px;height:20px;line-height:20px;font-size:7.8px;color:#074a0e;font-weight:700;"><span style="transform:scaleX(0.925)">1.467</span></div>
<div class="t" style="left:320.00px;width:38.30px;top:251.80px;height:20px;line-height:20px;font-size:7.8px;color:#8c0c0c;font-weight:700;"><span style="transform:scaleX(0.925)">256</span></div>
<div class="t" style="left:358.30px;width:50.30px;top:251.80px;height:20px;line-height:20px;font-size:7.8px;color:#2a1c00;font-weight:700;"><span style="transform:scaleX(0.925)">2.858</span></div>
<div class="t" style="left:408.60px;width:54.40px;top:251.80px;height:20px;line-height:20px;font-size:7.8px;color:#5e4a14;font-weight:402;font-style:italic;-webkit-text-stroke:0.2px #5e4a14;"><span style="transform:scaleX(0.925)">+ 41</span></div>
<div class="t" style="left:463.00px;width:47.70px;top:251.80px;height:20px;line-height:20px;font-size:7.8px;color:#222;font-weight:700;"><span style="transform:scaleX(0.925)">52.918</span></div>
<div class="t" style="left:510.70px;width:49.30px;top:251.80px;height:20px;line-height:20px;font-size:7.8px;color:#222;font-weight:700;"><span style="transform:scaleX(0.925)">34.057</span></div>
<div class="t" style="left:40.00px;width:59.30px;top:262.50px;height:20px;line-height:20px;font-size:7.45px;color:#1a1a1a;font-weight:700;"><span style="transform:scaleX(0.905)">Abruzzo</span></div>
<div class="t" style="left:99.30px;width:42.80px;top:262.50px;height:20px;line-height:20px;font-size:7.8px;color:#4a4a12;font-weight:401;-webkit-text-stroke:0.22px #4a4a12;"><span style="transform:scaleX(0.925)">322</span></div>
<div class="t" style="left:142.10px;width:45.90px;top:262.50px;height:20px;line-height:20px;font-size:7.8px;color:#4a4a12;font-weight:401;-webkit-text-stroke:0.22px #4a4a12;"><span style="transform:scaleX(0.925)">31</span></div>
<div class="t" style="left:188.00px;width:45.30px;top:262.50px;height:20px;line-height:20px;font-size:7.8px;color:#4a4a12;font-weight:401;-webkit-text-stroke:0.22px #4a4a12;"><span style="transform:scaleX(0.925)">1.747</span></div>
<div class="t" style="left:233.30px;width:50.20px;top:262.50px;height:20px;line-height:20px;font-size:7.8px;color:#141400;font-weight:700;"><span style="transform:scaleX(0.925)">2.100</span></div>
<div class="t" style="left:283.50px;width:36.50px;top:262.50px;height:20px;line-height:20px;font-size:7.8px;color:#074a0e;font-weight:700;"><span style="transform:scaleX(0.925)">405</span></div>
<div class="t" style="left:320.00px;width:38.30px;top:262.50px;height:20px;line-height:20px;font-size:7.8px;color:#8c0c0c;font-weight:700;"><span style="transform:scaleX(0.925)">280</span></div>
<div class="t" style="left:358.30px;width:50.30px;top:262.50px;height:20px;line-height:20px;font-size:7.8px;color:#2a1c00;font-weight:700;"><span style="transform:scaleX(0.925)">2.785</span></div>
<div class="t" style="left:408.60px;width:54.40px;top:262.50px;height:20px;line-height:20px;font-size:7.8px;color:#5e4a14;font-weight:402;font-style:italic;-webkit-text-stroke:0.2px #5e4a14;"><span style="transform:scaleX(0.925)">+ 52</span></div>
<div class="t" style="left:463.00px;width:47.70px;top:262.50px;height:20px;line-height:20px;font-size:7.8px;color:#222;font-weight:700;"><span style="transform:scaleX(0.925)">31.187</span></div>
<div class="t" style="left:510.70px;width:49.30px;top:262.50px;height:20px;line-height:20px;font-size:7.8px;color:#222;font-weight:700;"><span style="transform:scaleX(0.925)">24.751</span></div>
<div class="t" style="left:40.00px;width:59.30px;top:272.85px;height:20px;line-height:20px;font-size:7.45px;color:#1a1a1a;font-weight:700;"><span style="transform:scaleX(0.905)">Bolzano</span></div>
<div class="t" style="left:99.30px;width:42.80px;top:272.85px;height:20px;line-height:20px;font-size:7.8px;color:#4a4a12;font-weight:401;-webkit-text-stroke:0.22px #4a4a12;"><span style="transform:scaleX(0.925)">141</span></div>
<div class="t" style="left:142.10px;width:45.90px;top:272.85px;height:20px;line-height:20px;font-size:7.8px;color:#4a4a12;font-weight:401;-webkit-text-stroke:0.22px #4a4a12;"><span style="transform:scaleX(0.925)">17</span></div>
<div class="t" style="left:188.00px;width:45.30px;top:272.85px;height:20px;line-height:20px;font-size:7.8px;color:#4a4a12;font-weight:401;-webkit-text-stroke:0.22px #4a4a12;"><span style="transform:scaleX(0.925)">1.336</span></div>
<div class="t" style="left:233.30px;width:50.20px;top:272.85px;height:20px;line-height:20px;font-size:7.8px;color:#141400;font-weight:700;"><span style="transform:scaleX(0.925)">1.494</span></div>
<div class="t" style="left:283.50px;width:36.50px;top:272.85px;height:20px;line-height:20px;font-size:7.8px;color:#074a0e;font-weight:700;"><span style="transform:scaleX(0.925)">680</span></div>
<div class="t" style="left:320.00px;width:38.30px;top:272.85px;height:20px;line-height:20px;font-size:7.8px;color:#8c0c0c;font-weight:700;"><span style="transform:scaleX(0.925)">261</span></div>
<div class="t" style="left:358.30px;width:50.30px;top:272.85px;height:20px;line-height:20px;font-size:7.8px;color:#2a1c00;font-weight:700;"><span style="transform:scaleX(0.925)">2.435</span></div>
<div class="t" style="left:408.60px;width:54.40px;top:272.85px;height:20px;line-height:20px;font-size:7.8px;color:#5e4a14;font-weight:402;font-style:italic;-webkit-text-stroke:0.2px #5e4a14;"><span style="transform:scaleX(0.925)">+ 19</span></div>
<div class="t" style="left:463.00px;width:47.70px;top:272.85px;height:20px;line-height:20px;font-size:7.8px;color:#222;font-weight:700;"><span style="transform:scaleX(0.925)">33.994</span></div>
<div class="t" style="left:510.70px;width:49.30px;top:272.85px;height:20px;line-height:20px;font-size:7.8px;color:#222;font-weight:700;"><span style="transform:scaleX(0.925)">16.442</span></div>
<div class="t" style="left:40.00px;width:59.30px;top:283.05px;height:20px;line-height:20px;font-size:7.45px;color:#1a1a1a;font-weight:700;"><span style="transform:scaleX(0.905)">Umbria</span></div>
<div class="t" style="left:99.30px;width:42.80px;top:283.05px;height:20px;line-height:20px;font-size:7.8px;color:#4a4a12;font-weight:401;-webkit-text-stroke:0.22px #4a4a12;"><span style="transform:scaleX(0.925)">100</span></div>
<div class="t" style="left:142.10px;width:45.90px;top:283.05px;height:20px;line-height:20px;font-size:7.8px;color:#4a4a12;font-weight:401;-webkit-text-stroke:0.22px #4a4a12;"><span style="transform:scaleX(0.925)">19</span></div>
<div class="t" style="left:188.00px;width:45.30px;top:283.05px;height:20px;line-height:20px;font-size:7.8px;color:#4a4a12;font-weight:401;-webkit-text-stroke:0.22px #4a4a12;"><span style="transform:scaleX(0.925)">236</span></div>
<div class="t" style="left:233.30px;width:50.20px;top:283.05px;height:20px;line-height:20px;font-size:7.8px;color:#141400;font-weight:700;"><span style="transform:scaleX(0.925)">355</span></div>
<div class="t" style="left:283.50px;width:36.50px;top:283.05px;height:20px;line-height:20px;font-size:7.8px;color:#074a0e;font-weight:700;"><span style="transform:scaleX(0.925)">946</span></div>
<div class="t" style="left:320.00px;width:38.30px;top:283.05px;height:20px;line-height:20px;font-size:7.8px;color:#8c0c0c;font-weight:700;"><span style="transform:scaleX(0.925)">61</span></div>
<div class="t" style="left:358.30px;width:50.30px;top:283.05px;height:20px;line-height:20px;font-size:7.8px;color:#2a1c00;font-weight:700;"><span style="transform:scaleX(0.925)">1.362</span></div>
<div class="t" style="left:408.60px;width:54.40px;top:283.05px;height:20px;line-height:20px;font-size:7.8px;color:#5e4a14;font-weight:402;font-style:italic;-webkit-text-stroke:0.2px #5e4a14;"><span style="transform:scaleX(0.925)">+ 5</span></div>
<div class="t" style="left:463.00px;width:47.70px;top:283.05px;height:20px;line-height:20px;font-size:7.8px;color:#222;font-weight:700;"><span style="transform:scaleX(0.925)">29.011</span></div>
<div class="t" style="left:510.70px;width:49.30px;top:283.05px;height:20px;line-height:20px;font-size:7.8px;color:#222;font-weight:700;"><span style="transform:scaleX(0.925)">19.627</span></div>
<div class="t" style="left:40.00px;width:59.30px;top:293.45px;height:20px;line-height:20px;font-size:7.45px;color:#1a1a1a;font-weight:700;"><span style="transform:scaleX(0.905)">Sardegna</span></div>
<div class="t" style="left:99.30px;width:42.80px;top:293.45px;height:20px;line-height:20px;font-size:7.8px;color:#4a4a12;font-weight:401;-webkit-text-stroke:0.22px #4a4a12;"><span style="transform:scaleX(0.925)">90</span></div>
<div class="t" style="left:142.10px;width:45.90px;top:293.45px;height:20px;line-height:20px;font-size:7.8px;color:#4a4a12;font-weight:401;-webkit-text-stroke:0.22px #4a4a12;"><span style="transform:scaleX(0.925)">20</span></div>
<div class="t" style="left:188.00px;width:45.30px;top:293.45px;height:20px;line-height:20px;font-size:7.8px;color:#4a4a12;font-weight:401;-webkit-text-stroke:0.22px #4a4a12;"><span style="transform:scaleX(0.925)">707</span></div>
<div class="t" style="left:233.30px;width:50.20px;top:293.45px;height:20px;line-height:20px;font-size:7.8px;color:#141400;font-weight:700;"><span style="transform:scaleX(0.925)">817</span></div>
<div class="t" style="left:283.50px;width:36.50px;top:293.45px;height:20px;line-height:20px;font-size:7.8px;color:#074a0e;font-weight:700;"><span style="transform:scaleX(0.925)">339</span></div>
<div class="t" style="left:320.00px;width:38.30px;top:293.45px;height:20px;line-height:20px;font-size:7.8px;color:#8c0c0c;font-weight:700;"><span style="transform:scaleX(0.925)">98</span></div>
<div class="t" style="left:358.30px;width:50.30px;top:293.45px;height:20px;line-height:20px;font-size:7.8px;color:#2a1c00;font-weight:700;"><span style="transform:scaleX(0.925)">1.254</span></div>
<div class="t" style="left:408.60px;width:54.40px;top:293.45px;height:20px;line-height:20px;font-size:7.8px;color:#5e4a14;font-weight:402;font-style:italic;-webkit-text-stroke:0.2px #5e4a14;"><span style="transform:scaleX(0.925)">+ 7</span></div>
<div class="t" style="left:463.00px;width:47.70px;top:293.45px;height:20px;line-height:20px;font-size:7.8px;color:#222;font-weight:700;"><span style="transform:scaleX(0.925)">17.844</span></div>
<div class="t" style="left:510.70px;width:49.30px;top:293.45px;height:20px;line-height:20px;font-size:7.8px;color:#222;font-weight:700;"><span style="transform:scaleX(0.925)">16.094</span></div>
<div class="t" style="left:40.00px;width:59.30px;top:304.10px;height:20px;line-height:20px;font-size:7.45px;color:#1a1a1a;font-weight:700;"><span style="transform:scaleX(0.905)">Valle d'Aosta</span></div>
<div class="t" style="left:99.30px;width:42.80px;top:304.10px;height:20px;line-height:20px;font-size:7.8px;color:#4a4a12;font-weight:401;-webkit-text-stroke:0.22px #4a4a12;"><span style="transform:scaleX(0.925)">91</span></div>
<div class="t" style="left:142.10px;width:45.90px;top:304.10px;height:20px;line-height:20px;font-size:7.8px;color:#4a4a12;font-weight:401;-webkit-text-stroke:0.22px #4a4a12;"><span style="transform:scaleX(0.925)">9</span></div>
<div class="t" style="left:188.00px;width:45.30px;top:304.10px;height:20px;line-height:20px;font-size:7.8px;color:#4a4a12;font-weight:401;-webkit-text-stroke:0.22px #4a4a12;"><span style="transform:scaleX(0.925)">363</span></div>
<div class="t" style="left:233.30px;width:50.20px;top:304.10px;height:20px;line-height:20px;font-size:7.8px;color:#141400;font-weight:700;"><span style="transform:scaleX(0.925)">463</span></div>
<div class="t" style="left:283.50px;width:36.50px;top:304.10px;height:20px;line-height:20px;font-size:7.8px;color:#074a0e;font-weight:700;"><span style="transform:scaleX(0.925)">506</span></div>
<div class="t" style="left:320.00px;width:38.30px;top:304.10px;height:20px;line-height:20px;font-size:7.8px;color:#8c0c0c;font-weight:700;"><span style="transform:scaleX(0.925)">127</span></div>
<div class="t" style="left:358.30px;width:50.30px;top:304.10px;height:20px;line-height:20px;font-size:7.8px;color:#2a1c00;font-weight:700;"><span style="transform:scaleX(0.925)">1.096</span></div>
<div class="t" style="left:408.60px;width:54.40px;top:304.10px;height:20px;line-height:20px;font-size:7.8px;color:#5e4a14;font-weight:402;font-style:italic;-webkit-text-stroke:0.2px #5e4a14;"><span style="transform:scaleX(0.925)">+ 1</span></div>
<div class="t" style="left:463.00px;width:47.70px;top:304.10px;height:20px;line-height:20px;font-size:7.8px;color:#222;font-weight:700;"><span style="transform:scaleX(0.925)">5.227</span></div>
<div class="t" style="left:510.70px;width:49.30px;top:304.10px;height:20px;line-height:20px;font-size:7.8px;color:#222;font-weight:700;"><span style="transform:scaleX(0.925)">4.133</span></div>
<div class="t" style="left:40.00px;width:59.30px;top:314.70px;height:20px;line-height:20px;font-size:7.45px;color:#1a1a1a;font-weight:700;"><span style="transform:scaleX(0.905)">Calabria</span></div>
<div class="t" style="left:99.30px;width:42.80px;top:314.70px;height:20px;line-height:20px;font-size:7.8px;color:#4a4a12;font-weight:401;-webkit-text-stroke:0.22px #4a4a12;"><span style="transform:scaleX(0.925)">129</span></div>
<div class="t" style="left:142.10px;width:45.90px;top:314.70px;height:20px;line-height:20px;font-size:7.8px;color:#4a4a12;font-weight:401;-webkit-text-stroke:0.22px #4a4a12;"><span style="transform:scaleX(0.925)">7</span></div>
<div class="t" style="left:188.00px;width:45.30px;top:314.70px;height:20px;line-height:20px;font-size:7.8px;color:#4a4a12;font-weight:401;-webkit-text-stroke:0.22px #4a4a12;"><span style="transform:scaleX(0.925)">687</span></div>
<div class="t" style="left:233.30px;width:50.20px;top:314.70px;height:20px;line-height:20px;font-size:7.8px;color:#141400;font-weight:700;"><span style="transform:scaleX(0.925)">823</span></div>
<div class="t" style="left:283.50px;width:36.50px;top:314.70px;height:20px;line-height:20px;font-size:7.8px;color:#074a0e;font-weight:700;"><span style="transform:scaleX(0.925)">170</span></div>
<div class="t" style="left:320.00px;width:38.30px;top:314.70px;height:20px;line-height:20px;font-size:7.8px;color:#8c0c0c;font-weight:700;"><span style="transform:scaleX(0.925)">76</span></div>
<div class="t" style="left:358.30px;width:50.30px;top:314.70px;height:20px;line-height:20px;font-size:7.8px;color:#2a1c00;font-weight:700;"><span style="transform:scaleX(0.925)">1.069</span></div>
<div class="t" style="left:408.60px;width:54.40px;top:314.70px;height:20px;line-height:20px;font-size:7.8px;color:#5e4a14;font-weight:402;font-style:italic;-webkit-text-stroke:0.2px #5e4a14;"><span style="transform:scaleX(0.925)">+ 9</span></div>
<div class="t" style="left:463.00px;width:47.70px;top:314.70px;height:20px;line-height:20px;font-size:7.8px;color:#222;font-weight:700;"><span style="transform:scaleX(0.925)">27.869</span></div>
<div class="t" style="left:510.70px;width:49.30px;top:314.70px;height:20px;line-height:20px;font-size:7.8px;color:#222;font-weight:700;"><span style="transform:scaleX(0.925)">26.187</span></div>
<div class="t" style="left:40.00px;width:59.30px;top:325.20px;height:20px;line-height:20px;font-size:7.45px;color:#1a1a1a;font-weight:700;"><span style="transform:scaleX(0.905)">Basilicata</span></div>
<div class="t" style="left:99.30px;width:42.80px;top:325.20px;height:20px;line-height:20px;font-size:7.8px;color:#4a4a12;font-weight:401;-webkit-text-stroke:0.22px #4a4a12;"><span style="transform:scaleX(0.925)">61</span></div>
<div class="t" style="left:142.10px;width:45.90px;top:325.20px;height:20px;line-height:20px;font-size:7.8px;color:#4a4a12;font-weight:401;-webkit-text-stroke:0.22px #4a4a12;"><span style="transform:scaleX(0.925)">7</span></div>
<div class="t" style="left:188.00px;width:45.30px;top:325.20px;height:20px;line-height:20px;font-size:7.8px;color:#4a4a12;font-weight:401;-webkit-text-stroke:0.22px #4a4a12;"><span style="transform:scaleX(0.925)">161</span></div>
<div class="t" style="left:233.30px;width:50.20px;top:325.20px;height:20px;line-height:20px;font-size:7.8px;color:#141400;font-weight:700;"><span style="transform:scaleX(0.925)">229</span></div>
<div class="t" style="left:283.50px;width:36.50px;top:325.20px;height:20px;line-height:20px;font-size:7.8px;color:#074a0e;font-weight:700;"><span style="transform:scaleX(0.925)">103</span></div>
<div class="t" style="left:320.00px;width:38.30px;top:325.20px;height:20px;line-height:20px;font-size:7.8px;color:#8c0c0c;font-weight:700;"><span style="transform:scaleX(0.925)">24</span></div>
<div class="t" style="left:358.30px;width:50.30px;top:325.20px;height:20px;line-height:20px;font-size:7.8px;color:#2a1c00;font-weight:700;"><span style="transform:scaleX(0.925)">356</span></div>
<div class="t" style="left:408.60px;width:54.40px;top:325.20px;height:20px;line-height:20px;font-size:7.8px;color:#5e4a14;font-weight:402;font-style:italic;-webkit-text-stroke:0.2px #5e4a14;"><span style="transform:scaleX(0.925)">+ 2</span></div>
<div class="t" style="left:463.00px;width:47.70px;top:325.20px;height:20px;line-height:20px;font-size:7.8px;color:#222;font-weight:700;"><span style="transform:scaleX(0.925)">8.511</span></div>
<div class="t" style="left:510.70px;width:49.30px;top:325.20px;height:20px;line-height:20px;font-size:7.8px;color:#222;font-weight:700;"><span style="transform:scaleX(0.925)">8.511</span></div>
<div class="t" style="left:40.00px;width:59.30px;top:335.65px;height:20px;line-height:20px;font-size:7.45px;color:#1a1a1a;font-weight:700;"><span style="transform:scaleX(0.905)">Molise</span></div>
<div class="t" style="left:99.30px;width:42.80px;top:335.65px;height:20px;line-height:20px;font-size:7.8px;color:#4a4a12;font-weight:401;-webkit-text-stroke:0.22px #4a4a12;"><span style="transform:scaleX(0.925)">19</span></div>
<div class="t" style="left:142.10px;width:45.90px;top:335.65px;height:20px;line-height:20px;font-size:7.8px;color:#4a4a12;font-weight:401;-webkit-text-stroke:0.22px #4a4a12;"><span style="transform:scaleX(0.925)">1</span></div>
<div class="t" style="left:188.00px;width:45.30px;top:335.65px;height:20px;line-height:20px;font-size:7.8px;color:#4a4a12;font-weight:401;-webkit-text-stroke:0.22px #4a4a12;"><span style="transform:scaleX(0.925)">178</span></div>
<div class="t" style="left:233.30px;width:50.20px;top:335.65px;height:20px;line-height:20px;font-size:7.8px;color:#141400;font-weight:700;"><span style="transform:scaleX(0.925)">198</span></div>
<div class="t" style="left:283.50px;width:36.50px;top:335.65px;height:20px;line-height:20px;font-size:7.8px;color:#074a0e;font-weight:700;"><span style="transform:scaleX(0.925)">66</span></div>
<div class="t" style="left:320.00px;width:38.30px;top:335.65px;height:20px;line-height:20px;font-size:7.8px;color:#8c0c0c;font-weight:700;"><span style="transform:scaleX(0.925)">20</span></div>
<div class="t" style="left:358.30px;width:50.30px;top:335.65px;height:20px;line-height:20px;font-size:7.8px;color:#2a1c00;font-weight:700;"><span style="transform:scaleX(0.925)">284</span></div>
<div class="t" style="left:408.60px;width:54.40px;top:335.65px;height:20px;line-height:20px;font-size:7.8px;color:#5e4a14;font-weight:402;font-style:italic;-webkit-text-stroke:0.2px #5e4a14;"><span style="transform:scaleX(0.925)">0</span></div>
<div class="t" style="left:463.00px;width:47.70px;top:335.65px;height:20px;line-height:20px;font-size:7.8px;color:#222;font-weight:700;"><span style="transform:scaleX(0.925)">4.564</span></div>
<div class="t" style="left:510.70px;width:49.30px;top:335.65px;height:20px;line-height:20px;font-size:7.8px;color:#222;font-weight:700;"><span style="transform:scaleX(0.925)">4.478</span></div>
<div class="t" style="left:40.00px;width:59.30px;top:346.30px;height:20px;line-height:20px;font-size:7.45px;color:#1a1a1a;font-weight:700;"><span style="transform:scaleX(0.905)">TOTALE</span></div>
<div class="t" style="left:99.30px;width:42.80px;top:346.30px;height:20px;line-height:20px;font-size:7.8px;color:#2e2e10;font-weight:700;"><span style="transform:scaleX(0.925)">22.871</span></div>
<div class="t" style="left:142.10px;width:45.90px;top:346.30px;height:20px;line-height:20px;font-size:7.8px;color:#2e2e10;font-weight:700;"><span style="transform:scaleX(0.925)">2.267</span></div>
<div class="t" style="left:188.00px;width:45.30px;top:346.30px;height:20px;line-height:20px;font-size:7.8px;color:#2e2e10;font-weight:700;"><span style="transform:scaleX(0.925)">81.710</span></div>
<div class="t" style="left:233.30px;width:50.20px;top:346.30px;height:20px;line-height:20px;font-size:7.8px;color:#141400;font-weight:700;"><span style="transform:scaleX(0.925)">106.848</span></div>
<div class="t" style="left:283.50px;width:36.50px;top:346.30px;height:20px;line-height:20px;font-size:7.8px;color:#074a0e;font-weight:700;"><span style="transform:scaleX(0.925)">57.576</span></div>
<div class="t" style="left:320.00px;width:38.30px;top:346.30px;height:20px;line-height:20px;font-size:7.8px;color:#8c0c0c;font-weight:700;"><span style="transform:scaleX(0.925)">25.549</span></div>
<div class="t" style="left:358.30px;width:50.30px;top:346.30px;height:20px;line-height:20px;font-size:7.8px;color:#2a1c00;font-weight:700;"><span style="transform:scaleX(0.925)">189.973</span></div>
<div class="t" style="left:408.60px;width:54.40px;top:346.30px;height:20px;line-height:20px;font-size:7.8px;color:#5e4a14;font-weight:700;font-style:italic;"><span style="transform:scaleX(0.925)">+ 2.646</span></div>
<div class="t" style="left:463.00px;width:47.70px;top:346.30px;height:20px;line-height:20px;font-size:7.8px;color:#222;font-weight:700;"><span style="transform:scaleX(0.925)">1.579.909</span></div>
<div class="t" style="left:510.70px;width:49.30px;top:346.30px;height:20px;line-height:20px;font-size:7.8px;color:#222;font-weight:700;"><span style="transform:scaleX(0.925)">1.052.577</span></div>
<div style="left:99.30px;top:365.80px;width:134.20px;height:11.10px;background:#ffff08;"></div>
<div style="left:99.30px;top:376.90px;width:134.20px;height:10.60px;background:#16f01c;"></div>
<div style="left:99.30px;top:387.50px;width:134.20px;height:10.70px;background:#fb1612;"></div>
<div style="left:99.30px;top:398.20px;width:134.20px;height:10.90px;background:#ffb01a;"></div>
<div style="left:98.80px;top:365.30px;width:135.20px;height:1.00px;background:#6b4e12;"></div>
<div style="left:98.80px;top:376.50px;width:135.20px;height:0.80px;background:#6b4e12;"></div>
<div style="left:98.80px;top:387.10px;width:135.20px;height:0.80px;background:#6b4e12;"></div>
<div style="left:98.80px;top:397.80px;width:135.20px;height:0.80px;background:#6b4e12;"></div>
<div style="left:98.80px;top:408.60px;width:135.20px;height:1.00px;background:#6b4e12;"></div>
<div style="left:98.80px;top:365.80px;width:1.00px;height:43.30px;background:#6b4e12;"></div>
<div style="left:186.80px;top:365.80px;width:1.00px;height:43.30px;background:#6b4e12;"></div>
<div style="left:233.00px;top:365.80px;width:1.00px;height:43.30px;background:#6b4e12;"></div>
<div class="t" style="left:99.30px;width:88.00px;top:361.95px;height:20px;line-height:20px;font-size:7.3px;color:#2a2a00;font-weight:700;"><span style="transform:scaleX(0.92)">ATTUALMENTE POSITIVI</span></div>
<div class="t" style="left:187.30px;width:46.20px;top:361.95px;height:20px;line-height:20px;font-size:7.3px;color:#2a2a00;font-weight:700;"><span style="transform:scaleX(0.92)">106.848</span></div>
<div class="t" style="left:99.30px;width:88.00px;top:372.80px;height:20px;line-height:20px;font-size:7.3px;color:#0c5a16;font-weight:700;"><span style="transform:scaleX(0.92)">TOTALE GUARITI</span></div>
<div class="t" style="left:187.30px;width:46.20px;top:372.80px;height:20px;line-height:20px;font-size:7.3px;color:#0c5a16;font-weight:700;"><span style="transform:scaleX(0.92)">57.576</span></div>
<div class="t" style="left:99.30px;width:88.00px;top:383.45px;height:20px;line-height:20px;font-size:7.3px;color:#8c0c0c;font-weight:700;"><span style="transform:scaleX(0.92)">TOTALE DECEDUTI</span></div>
<div class="t" style="left:187.30px;width:46.20px;top:383.45px;height:20px;line-height:20px;font-size:7.3px;color:#8c0c0c;font-weight:700;"><span style="transform:scaleX(0.92)">25.549</span></div>
<div class="t" style="left:99.30px;width:88.00px;top:394.25px;height:20px;line-height:20px;font-size:7.3px;color:#3a2600;font-weight:700;"><span style="transform:scaleX(0.92)">CASI TOTALI</span></div>
<div class="t" style="left:187.30px;width:46.20px;top:394.25px;height:20px;line-height:20px;font-size:7.3px;color:#3a2600;font-weight:700;"><span style="transform:scaleX(0.92)">189.973</span></div>
<div class="t" style="left:200.00px;width:200.00px;top:12.80px;height:20px;line-height:20px;font-size:7.5px;color:#2a2a2a;font-weight:400;"><span style="transform:scaleX(0.972)">PCM-DPC dati forniti dal Ministero della Salute</span></div>
<svg style="position:absolute;left:35.7px;top:9.5px" width="27.8" height="27.8" viewBox="0 0 28 28"><circle cx="14" cy="14" r="14" fill="#35a5de"/><g transform="translate(-0.2,0.7)"><path d="M5.6 13.9 L20.6 7.9 C21.3 7.6 21.8 8.1 21.6 8.9 L19.2 20.2 C19.0 21.0 18.4 21.2 17.7 20.8 L13.9 18.0 L12.0 19.8 C11.7 20.1 11.4 20.0 11.3 19.6 L10.4 16.3 L5.7 14.8 C5.0 14.6 5.0 14.1 5.6 13.9 Z" fill="#fff"/><path d="M10.4 16.3 L18.6 10.6 L12.3 17.0 L12.0 19.8 Z" fill="#c8dff0"/></g></svg>
<div style="left:65.3px;top:14.3px;width:83.1px;height:20px;background:#0a0a0a;border-radius:10px"></div>
<div class="t" style="left:65.30px;width:83.10px;top:14.30px;height:20px;line-height:20px;font-size:12.1px;color:#fff;font-weight:700;"><span style="transform:scaleX(1.0)">t.me/ultimora</span></div>
</div></body></html>
